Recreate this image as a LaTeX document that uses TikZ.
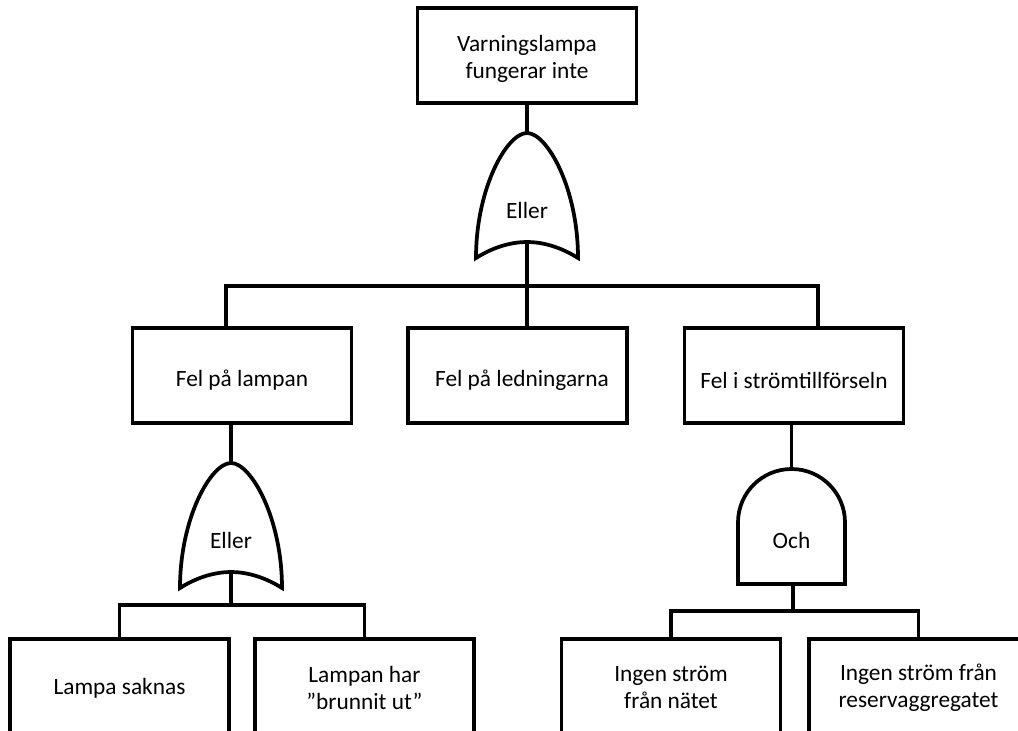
\documentclass[tikz,border=0pt]{standalone}
\usepackage{fontspec}
\setmainfont{Carlito}
\begin{document}
\begin{tikzpicture}[x=0.75pt,y=-0.75pt,
  wire/.style={draw=black,line width=2.8pt},
  event/.style={draw=black,line width=2.8pt,fill=white,minimum width=164.25pt,
    minimum height=71.25pt,inner sep=0pt},
  eventtext/.style={align=center,inner sep=0pt,
    font=\fontsize{17.5}{20.25}\selectfont},
  gatetext/.style={inner sep=0pt,font=\fontsize{17.5}{20.25}\selectfont},
  orgate/.pic={
    \draw[wire,fill=white] (0,-77) .. controls (-20,-77) and (-51,-22) .. (-51,48)
      .. controls (-32,36) and (-14,32) .. (0,32)
      .. controls (14,32) and (32,36) .. (51,48)
      .. controls (51,-22) and (20,-77) .. cycle;
    \coordinate (-top) at (0,-77);
    \coordinate (-out) at (0,32);
  },
  andgate/.pic={
    \draw[wire,fill=white] (-53.5,44) -- (-53.5,-17.5)
      arc[start angle=180,end angle=360,radius=53.5] -- (53.5,44) -- cycle;
    \coordinate (-top) at (0,-71);
    \coordinate (-out) at (1.5,44);
  }]
\useasboundingbox (0,0) rectangle (1018,731);
\clip (0,0) rectangle (1018,731);

% top event
\node[event] (top) at (527,55.5) {};
\node[eventtext] (topt) at (527,59) {Varningslampa\\fungerar inte};

% top OR gate
\pic (g1) at (527,210) {orgate};
\node[gatetext] (g1t) at (527,210) {Eller};

% intermediate events
\node[event] (b1) at (242,375.5) {};
\node[eventtext] (b1t) at (242,380) {Fel på lampan};
\node[event] (b2) at (517.5,375.5) {};
\node[eventtext] (b2t) at (522,380) {Fel på ledningarna};
\node[event] (b3) at (794,375.5) {};
\node[eventtext] (b3t) at (794,380) {Fel i strömtillförseln};

% lower gates
\pic (g2) at (231,540) {orgate};
\node[gatetext] (g2t) at (231,540) {Eller};
\pic (a1) at (791.5,540) {andgate};
\node[gatetext] (a1t) at (791.5,540) {Och};

% basic events
\node[event] (bA) at (119.5,686.5) {};
\node[eventtext] (bAt) at (119.5,688) {Lampa saknas};
\node[event] (bB) at (364.5,686.5) {};
\node[eventtext] (bBt) at (364.5,687.5) {Lampan har\\”brunnit ut”};
\node[event] (bC) at (671,686.5) {};
\node[eventtext] (bCt) at (671,687.5) {Ingen ström\\från nätet};
\node[event] (bD) at (918.5,686.5) {};
\node[eventtext] (bDt) at (918.5,687.5) {Ingen ström från\\reservaggregatet};

% connectors
\draw[wire] (top.south) -- (g1-top);
\coordinate (j1) at (226,286);
\coordinate (j3) at (818,286);
\draw[wire] (j1 |- b1.north) -- (j1) -- (j3) -- (j3 |- b3.north);
\draw[wire] (g1-out) -- (g1-out |- b2.north);

\draw[wire] (g2-top |- b1.south) -- (g2-top);
\draw[wire] (a1-top |- b3.south) -- (a1-top);

\coordinate (k1) at (0,605);
\draw[wire] (bA.north) |- (k1 -| bB.north) -- (bB.north);
\draw[wire] (g2-out) -- (g2-out |- k1);

\coordinate (k2) at (0,611);
\draw[wire] (bC.north) |- (k2 -| bD.north) -- (bD.north);
\draw[wire] (a1-out) -- (a1-out |- k2);
\end{tikzpicture}
\end{document}
